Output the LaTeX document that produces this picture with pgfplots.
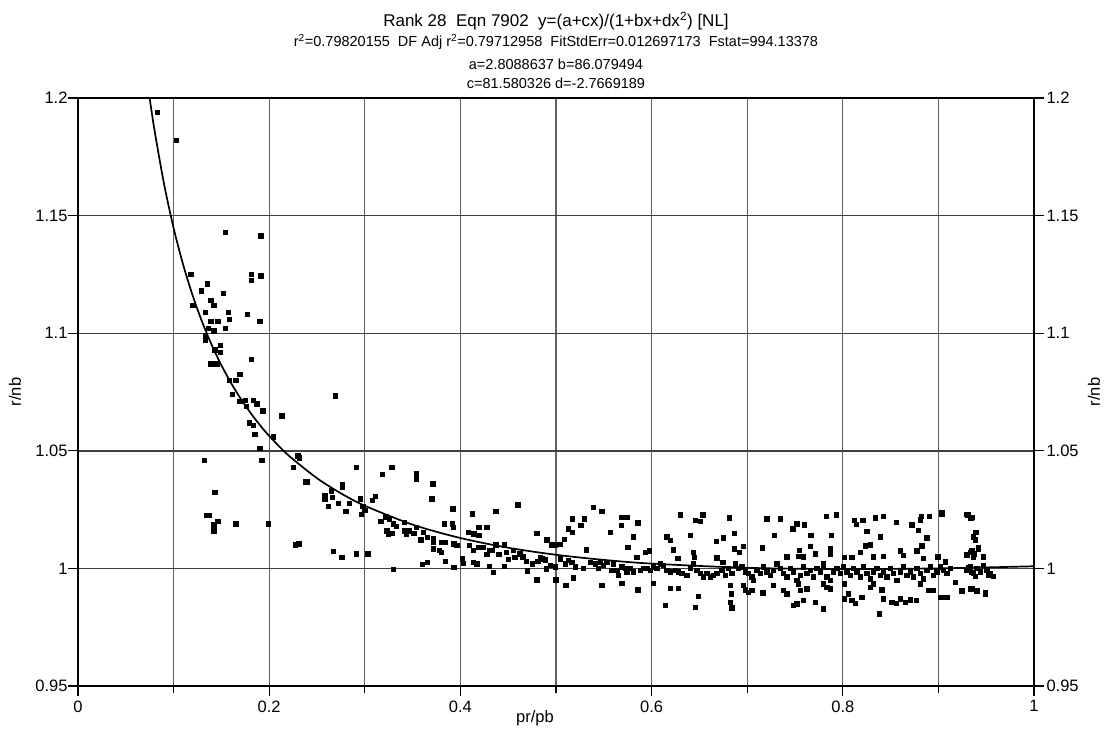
\documentclass[border=0pt]{standalone}
\usepackage{fontspec}
\setmainfont{Liberation Sans}
\usepackage{pgfplots}
\pgfplotsset{compat=1.18}
\begin{document}
\begin{tikzpicture}
\useasboundingbox (-78pt,-46pt) rectangle (1031pt,686pt);
\pgfplotsset{
  common/.style={
    at={(0,0)}, anchor=south west,
    width=956pt, height=588pt, scale only axis,
    xmin=0, xmax=1, ymin=0.95, ymax=1.2,
    ytick={0.95,1,1.05,1.1,1.15,1.2},
    yticklabels={0.95,1,1.05,1.1,1.15,1.2},
    tick align=outside,
    major tick length=10pt, minor tick length=7pt,
    tick style={black, line width=1.3pt},
    ticklabel style={font=\fontsize{16.5}{19}\selectfont},
    label style={font=\fontsize{16.5}{19}\selectfont},
  }
}
\begin{axis}[common,
  xtick={0,0.2,0.4,0.6,0.8,1},
  xticklabels={0,0.2,0.4,0.6,0.8,1},
  minor xtick={0.1,0.3,0.5,0.7,0.9},
  xtick pos=bottom, ytick pos=left,
  grid=both,
  every axis x grid/.style={black!62, line width=1.2pt},
  every axis y grid/.style={black!75, line width=1.4pt},
  axis line style={black, line width=2pt},
  xlabel={pr/pb},
  xlabel style={at={(axis description cs:0.478,-0.054)}, anchor=center},
  ylabel={r/nb},
  ylabel style={at={(axis description cs:-0.066,0.5)}, anchor=center},
  xticklabel style={yshift=-1pt},
  yticklabel style={xshift=3pt},
]
\addplot[black, line width=1.7pt, smooth] coordinates {
(0.075,1.19985)(0.08,1.18639)(0.09,1.16348)(0.1,1.14473)(0.11,1.12912)
(0.12,1.11593)(0.13,1.10464)(0.14,1.09489)(0.15,1.08638)(0.16,1.07890)
(0.17,1.07226)(0.18,1.06636)(0.19,1.06108)(0.2,1.05632)(0.22,1.04812)
(0.25,1.03835)(0.275,1.03192)(0.3,1.02665)(0.35,1.01861)(0.4,1.01292)
(0.45,1.00879)(0.5,1.00579)(0.55,1.00361)(0.6,1.00204)(0.7,1.00025)
(0.8,0.99971)(0.9,1.00001)(1.0,1.00091)
};
\addplot[only marks, mark=square*, mark size=2.2pt, black] coordinates {
(0.083,1.194)(0.103,1.182)(0.154,1.143)(0.191,1.1415)(0.118,1.125)
(0.181,1.125)(0.181,1.1225)(0.191,1.1245)(0.135,1.121)(0.129,1.118)
(0.152,1.117)(0.139,1.114)(0.120,1.112)(0.142,1.112)(0.133,1.109)
(0.157,1.109)(0.177,1.108)(0.139,1.105)(0.146,1.105)(0.158,1.106)
(0.190,1.105)(0.136,1.102)(0.142,1.101)(0.154,1.102)(0.133,1.099)
(0.133,1.097)(0.149,1.095)(0.143,1.093)(0.149,1.092)(0.139,1.087)
(0.145,1.087)(0.181,1.089)(0.169,1.0825)(0.158,1.080)(0.165,1.080)
(0.161,1.074)(0.169,1.071)(0.175,1.0715)(0.183,1.0715)(0.187,1.070)
(0.176,1.069)(0.193,1.067)(0.213,1.065)(0.179,1.062)(0.183,1.061)
(0.185,1.057)(0.204,1.056)(0.190,1.051)(0.192,1.046)(0.132,1.046)
(0.230,1.048)(0.225,1.043)(0.143,1.0325)(0.134,1.0225)(0.137,1.0225)
(0.146,1.020)(0.142,1.0185)(0.142,1.016)(0.165,1.019)(0.199,1.019)
(0.227,1.010)(0.231,1.0105)(0.269,1.0734)(0.2315,1.047)(0.2375,1.0368)
(0.240,1.0368)(0.2765,1.0358)(0.2765,1.0346)(0.291,1.043)(0.328,1.043)
(0.318,1.040)(0.354,1.0406)(0.354,1.0382)(0.371,1.036)(0.370,1.0297)
(0.265,1.033)(0.258,1.031)(0.258,1.0297)(0.266,1.0304)(0.272,1.0278)
(0.2615,1.0265)(0.2835,1.0278)(0.280,1.0243)(0.295,1.0297)(0.298,1.0264)
(0.300,1.0247)(0.296,1.023)(0.308,1.029)(0.311,1.0308)(0.3165,1.020)
(0.322,1.022)(0.3255,1.021)(0.330,1.019)(0.333,1.0179)(0.323,1.016)
(0.3245,1.0148)(0.328,1.015)(0.341,1.0197)(0.341,1.016)(0.343,1.0148)
(0.3465,1.016)(0.351,1.015)(0.354,1.0176)(0.3585,1.0122)(0.361,1.0155)
(0.365,1.0133)(0.3715,1.0126)(0.3715,1.0112)(0.3715,1.0084)(0.378,1.0077)
(0.380,1.0069)(0.383,1.019)(0.3915,1.019)(0.3925,1.0176)(0.392,1.0254)
(0.380,1.0112)(0.384,1.0112)(0.393,1.0105)(0.396,1.0098)(0.384,1.003)
(0.393,1.0006)(0.402,1.0041)(0.403,1.0023)(0.360,1.0017)(0.365,1.0026)
(0.330,0.9996)(0.267,1.0074)(0.276,1.0048)(0.291,1.0063)(0.303,1.0063)
(0.4125,1.0233)(0.437,1.0243)(0.460,1.0271)(0.408,1.0155)(0.414,1.0148)
(0.419,1.0176)(0.419,1.014)(0.4275,1.0176)(0.409,1.0098)(0.4135,1.0077)
(0.419,1.0091)(0.424,1.0091)(0.430,1.0077)(0.4275,1.006)(0.433,1.0077)
(0.4135,1.0027)(0.417,1.002)(0.430,1.0009)(0.434,0.9984)(0.446,1.0009)
(0.437,1.0101)(0.446,1.0101)(0.448,1.0069)(0.455,1.0077)(0.457,1.0048)
(0.462,1.0063)(0.469,1.0031)(0.480,1.015)(0.481,1.0031)(0.485,1.0041)
(0.490,1.0119)(0.490,0.9999)(0.480,0.9952)(0.440,1.006)(0.450,1.004)
(0.465,1.005)(0.475,1.002)(0.470,0.999)
(0.539,1.0261)(0.5477,1.0244)(0.5171,1.0212)(0.5297,1.0212)(0.5258,1.0183)
(0.5129,1.0169)(0.5171,1.0153)(0.4903,1.0125)(0.4955,1.0100)(0.4990,1.0100)
(0.5042,1.0104)(0.5084,1.0125)(0.5314,1.0079)(0.5565,1.0153)(0.5680,1.0218)
(0.5739,1.0218)(0.5680,1.0183)(0.5854,1.0194)(0.5809,1.0134)(0.5750,1.0091)
(0.5931,1.0069)(0.5976,1.0076)(0.5845,1.0048)(0.6157,1.0134)(0.6192,1.0120)
(0.6227,1.0079)(0.6297,1.0228)(0.6454,1.0204)(0.6506,1.0200)(0.6534,1.0228)
(0.6402,1.0140)(0.6437,1.0069)(0.6447,1.0048)(0.6273,1.0044)(0.6674,1.0115)
(0.6750,1.0131)(0.6810,1.0216)(0.6866,1.0150)(0.6866,1.0084)(0.6914,1.0069)
(0.6960,1.0094)(0.6681,1.0045)(0.6744,1.0027)(0.7204,1.0211)(0.7343,1.0211)
(0.7281,1.0140)(0.7158,1.0088)(0.7476,1.0169)(0.7518,1.0190)(0.7594,1.0186)
(0.7543,1.0077)(0.7536,1.0053)(0.7588,1.0050)(0.7413,1.0050)(0.7664,1.0140)
(0.7657,1.0094)(0.7709,1.0062)(0.7825,1.0221)(0.7929,1.0228)(0.7876,1.0140)
(0.7870,1.0084)(0.7870,1.0062)(0.7796,1.0023)(0.8121,1.0204)(0.8138,1.0187)
(0.8208,1.0204)(0.8250,1.0157)(0.8016,1.0048)(0.8093,1.0048)(0.8180,1.0069)
(0.8232,1.0097)(0.8285,1.0101)(0.8337,1.0215)(0.8424,1.0221)(0.8389,1.0135)
(0.8320,1.0050)(0.8424,1.0053)(0.8557,1.0197)(0.8598,1.0076)(0.8633,1.0056)
(0.8720,1.0186)(0.8790,1.0162)(0.8808,1.0207)(0.8818,1.0221)(0.8905,1.0221)
(0.8878,1.0131)(0.8825,1.0097)(0.8773,1.0076)(0.8843,1.0044)(0.9034,1.0232)
(0.8992,1.0050)(0.9069,1.0029)(0.9307,1.0228)(0.9349,1.0218)(0.9384,1.0154)
(0.9367,1.0136)(0.9419,1.0083)(0.9470,1.0050)(0.9332,1.0069)(0.9367,1.0048)
(0.4997,0.9952)(0.5101,0.9928)(0.5181,0.9960)(0.5477,0.9928)(0.5688,0.9938)
(0.5854,0.9910)(0.6018,0.9938)(0.6140,0.9843)(0.6192,0.9917)(0.6279,0.9917)
(0.6454,0.9836)(0.6489,0.9881)(0.6820,0.9928)(0.6831,0.9893)(0.6820,0.9857)
(0.6838,0.9833)(0.6960,0.9928)(0.6977,0.9910)(0.7012,0.9900)(0.7047,0.9907)
(0.7162,0.9897)(0.7274,0.9928)(0.7378,0.9907)(0.7413,0.9893)(0.7483,0.9843)
(0.7518,0.9850)(0.7588,0.9864)(0.7536,0.9935)(0.7553,0.9907)(0.7622,0.9914)
(0.7709,0.9857)(0.7796,0.9829)(0.7796,0.9935)(0.7831,0.9921)(0.7866,0.9914)
(0.8013,0.9935)(0.8013,0.9871)(0.8058,0.9893)(0.8093,0.9864)(0.8128,0.9853)
(0.8198,0.9878)(0.8285,0.9921)(0.8320,0.9935)(0.8383,0.9808)(0.8407,0.9910)
(0.8424,0.9871)(0.8512,0.9857)(0.8557,0.9853)(0.8598,0.9871)(0.8651,0.9857)
(0.8703,0.9867)(0.8766,0.9864)(0.8808,0.9935)(0.8895,0.9907)(0.8947,0.9907)
(0.9017,0.9878)(0.9069,0.9878)(0.9244,0.9907)(0.9332,0.9914)(0.9402,0.9907)
(0.9489,0.9900)
(0.4833,1.0048)(0.4885,1.0037)(0.4937,1.0013)(0.4990,1.0007)(0.5042,1.0041)
(0.5094,1.0020)(0.5129,1.0034)(0.5164,1.0027)(0.5199,1.0007)(0.5286,1.0000)
(0.5356,1.0027)(0.5408,1.0020)(0.5443,1.0000)(0.5460,1.0027)(0.5495,1.0013)
(0.5530,1.0027)(0.5582,0.9993)(0.5600,1.0020)(0.5635,0.9993)(0.5652,0.9972)
(0.5687,1.0007)(0.5722,1.0000)(0.5739,0.9986)(0.5774,1.0000)(0.5809,0.9986)
(0.5879,0.9993)(0.5913,1.0000)(0.5948,1.0000)(0.5983,0.9993)(0.6018,1.0007)
(0.6053,1.0000)(0.6088,1.0020)(0.6123,1.0013)(0.6158,0.9993)(0.6192,0.9986)
(0.6245,0.9993)(0.6280,0.9986)(0.6315,0.9979)(0.6367,0.9972)(0.6402,1.0000)
(0.6437,1.0020)(0.6472,0.9993)(0.6506,0.9979)(0.6541,0.9964)(0.6576,0.9979)
(0.6611,0.9964)(0.6646,0.9972)(0.6681,0.9979)(0.6733,0.9993)(0.6768,0.9972)
(0.6803,1.0000)(0.6838,0.9979)(0.6872,1.0020)(0.6907,1.0000)(0.6942,1.0007)
(0.6977,0.9986)(0.7012,0.9979)(0.7047,0.9964)(0.7064,0.9950)(0.7099,0.9993)
(0.7134,0.9979)(0.7169,1.0007)(0.7204,0.9986)(0.7238,0.9972)(0.7273,0.9993)
(0.7308,1.0020)(0.7343,1.0000)(0.7378,0.9979)(0.7413,0.9964)(0.7448,1.0000)
(0.7483,0.9986)(0.7518,0.9950)(0.7552,0.9972)(0.7587,1.0007)(0.7622,0.9979)
(0.7657,0.9993)(0.7692,0.9964)(0.7727,1.0000)(0.7762,0.9986)(0.7797,1.0007)
(0.7832,0.9964)(0.7866,0.9950)(0.7901,0.9986)(0.7936,1.0000)(0.7971,0.9979)
(0.8006,1.0007)(0.8041,0.9986)(0.8075,0.9972)(0.8110,1.0000)(0.8145,0.9986)
(0.8180,0.9964)(0.8215,1.0007)(0.8250,0.9979)(0.8285,0.9957)(0.8319,0.9986)
(0.8354,1.0000)(0.8389,0.9972)(0.8424,0.9986)(0.8459,0.9964)(0.8494,1.0000)
(0.8529,0.9979)(0.8564,0.9950)(0.8598,0.9986)(0.8633,1.0007)(0.8668,0.9972)
(0.8703,0.9986)(0.8738,0.9964)(0.8773,1.0000)(0.8808,0.9979)(0.8843,0.9957)
(0.8878,0.9993)(0.8912,1.0007)(0.8947,0.9972)(0.8982,0.9986)(0.9017,1.0007)
(0.9052,0.9993)(0.9087,0.9979)(0.9122,1.0000)(0.9296,0.9993)(0.9331,1.0007)
(0.9366,0.9979)(0.9401,1.0000)(0.9435,0.9986)(0.9470,1.0013)(0.9505,0.9993)
(0.9522,0.9972)
(0.9296,1.0230)(0.9338,1.0216)(0.9394,1.0154)(0.9366,1.0133)(0.9383,1.0122)
(0.9418,1.0088)(0.9348,1.0077)(0.9296,1.0058)(0.9373,1.0062)(0.9470,1.0051)
(0.9243,0.9906)(0.9348,0.9913)(0.9401,0.9906)(0.9488,0.9892)(0.9310,1.0006)
(0.9348,0.9984)(0.9436,0.9984)(0.9540,0.9977)(0.9575,0.9966)(0.9383,0.9966)
(0.9174,0.9942)(0.9034,1.0236)(0.9017,0.9878)(0.9087,0.9878)
};
\end{axis}
\begin{axis}[common,
  axis x line=none, axis y line*=right,
  xtick=\empty,
  ytick pos=right,
  axis line style={black, line width=2pt},
  ylabel={r/nb},
  ylabel style={at={(axis description cs:1.0628,0.5)}, anchor=center},
  yticklabel style={xshift=-1pt},
]
\end{axis}
\node[anchor=base, font=\fontsize{17}{20}\selectfont] at (478pt,659pt) {Rank 28\ \ Eqn 7902\ \ y=(a+cx)/(1+bx+dx\textsuperscript{2}) [NL]};
\node[anchor=base, font=\fontsize{14.5}{17}\selectfont] at (478pt,639pt) {r\textsuperscript{2}=0.79820155\ \ DF Adj r\textsuperscript{2}=0.79712958\ \ FitStdErr=0.012697173\ \ Fstat=994.13378};
\node[anchor=base, font=\fontsize{14.5}{17}\selectfont] at (478pt,616pt) {a=2.8088637 b=86.079494};
\node[anchor=base, font=\fontsize{14.5}{17}\selectfont] at (478pt,597pt) {c=81.580326 d=-2.7669189};
\end{tikzpicture}
\end{document}
